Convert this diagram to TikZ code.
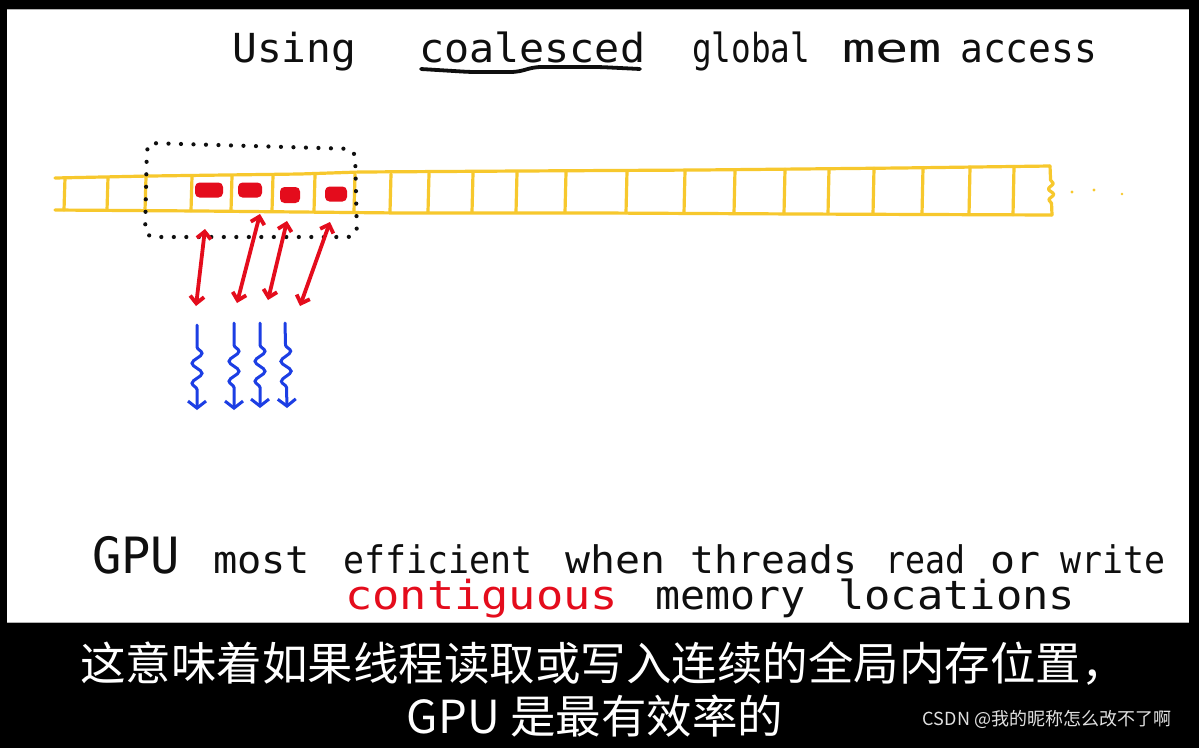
\documentclass[tikz,border=0pt]{standalone}
\usepackage{fontspec}
\setmainfont{Liberation Sans}
\newfontfamily\hand{DejaVu Sans Mono}
\newfontfamily\cjk{Noto Sans CJK SC}
\usetikzlibrary{arrows.meta,decorations.pathmorphing,calc}
\definecolor{memyellow}{RGB}{247,200,45}
\definecolor{penred}{RGB}{228,12,28}
\definecolor{penblue}{RGB}{28,62,228}
\definecolor{ink}{RGB}{15,15,15}
\newcommand{\fitw}[2]{\resizebox{#1pt}{\height}{#2}}
\tikzset{
  mem/.style={memyellow, line width=3.2pt, line cap=round, line join=round},
  dotbox/.style={ink, line width=4.2pt, line cap=round, dash pattern=on 0pt off 12.5pt, rounded corners=9pt},
  blob/.style={fill=penred, draw=none, rounded corners=4.5pt, inner sep=0pt},
  redarrow/.style={penred, line width=3.8pt, line cap=round,
    {Straight Barb[length=7pt,width=14pt]}-{Straight Barb[length=7pt,width=14pt]}},
  wavy/.style={penblue, line width=3pt, line cap=round,
    -{Straight Barb[length=7pt,width=18pt]},
    decorate, decoration={snake, amplitude=5pt, segment length=20pt, pre length=22pt, post length=18pt}},
  ttl/.style={anchor=base west, inner sep=0pt, text=ink, font=\hand\fontsize{40}{48}\selectfont},
  lineone/.style={anchor=base west, inner sep=0pt, text=ink, font=\hand\fontsize{38}{46}\selectfont},
  linetwo/.style={anchor=base west, inner sep=0pt, text=ink, font=\hand\fontsize{40}{48}\selectfont},
  sub/.style={inner sep=0pt, text=white, font=\cjk\fontsize{45.5}{52}\selectfont},
}
\begin{document}
\begin{tikzpicture}[x=1pt,y=-1pt]
\useasboundingbox (0,0) rectangle (1199,748);
\fill[black] (0,0) rectangle (1199,748);
\fill[white] (7,9) rectangle (1189,623);
\draw[gray!60, line width=1.5pt] (7,9.5) -- (1189,9.5);
\draw[gray!60, line width=1.5pt] (7,622.5) -- (1189,622.5);

% title
\node[ttl] (w1) at (232,62) {\fitw{124}{Using}};
\node[ttl] (w2) at (419,62) {\fitw{226}{coalesced}};
\node[ttl] (w3) at (692,62) {\fitw{118}{global}};
\node[ttl] (w4) at (842,62) {\fitw{100}{mem}};
\node[ttl] (w5) at (960,62) {\fitw{137}{access}};
\draw[ink, line width=3.8pt, line cap=round, rounded corners=6pt]
  (421,69) -- (470,72) -- (517,72) -- (535,67) -- (600,67) -- (640,69);

% memory strip
\draw[mem] (55,178) -- (150,176) -- (300,174) -- (360,172) -- (520,171) -- (700,170) -- (900,168) -- (1050,166);
\draw[mem] (55,210) -- (200,211) -- (400,213) -- (600,213) -- (800,214) -- (1052,215);
\foreach \x in {65,108,146,192,232,273,315,355,391,429,473,517,566,627,685,735,785,829,874,923,970,1014}
  \draw[mem] (\x,{178-(\x-55)*0.012}) -- (\x-1,{210+(\x-55)*0.005});
\draw[mem, decorate, decoration={snake, amplitude=2.5pt, segment length=11pt, pre length=14pt, post length=8pt}] (1050,166) -- (1052,215);
\fill[memyellow] (1072,192) circle (1.7pt) (1094,190) circle (1.7pt) (1122,194) circle (1.4pt);

% data elements
\node[blob, minimum width=28pt, minimum height=15pt] (m1) at (209,190) {};
\node[blob, minimum width=24pt, minimum height=15pt] (m2) at (250,190) {};
\node[blob, minimum width=20pt, minimum height=16pt] (m3) at (290,195) {};
\node[blob, minimum width=22pt, minimum height=15pt] (m4) at (336,194) {};

% dotted group box
\draw[dotbox] (147,143) -- (355,149) -- (357,237) -- (145,237) -- cycle;

% red arrows between memory and threads
\coordinate (r1t) at (205,229); \coordinate (r1b) at (196,306);
\coordinate (r2t) at (260,214); \coordinate (r2b) at (237,303);
\coordinate (r3t) at (287,221); \coordinate (r3b) at (268,300);
\coordinate (r4t) at (330,222); \coordinate (r4b) at (300,306);
\draw[redarrow] (r1b) -- (r1t);
\draw[redarrow] (r2b) -- (r2t);
\draw[redarrow] (r3b) -- (r3t);
\draw[redarrow] (r4b) -- (r4t);

% threads
\coordinate (b1t) at (197,325); \coordinate (b1b) at (197,410);
\coordinate (b2t) at (234,323); \coordinate (b2b) at (234,410);
\coordinate (b3t) at (260,323); \coordinate (b3b) at (260,408);
\coordinate (b4t) at (285,323); \coordinate (b4b) at (287,408);
\draw[wavy] (b1t) -- (b1b);
\draw[wavy] (b2t) -- (b2b);
\draw[wavy] (b3t) -- (b3b);
\draw[wavy] (b4t) -- (b4b);

% bottom statement
\node[lineone, font=\hand\fontsize{50}{58}\selectfont] (t1) at (92,573) {\fitw{88}{GPU}};
\node[lineone] (t2) at (213,573) {\fitw{97}{most}};
\node[lineone] (t3) at (343,573) {\fitw{189}{efficient}};
\node[lineone] (t4) at (565,573) {\fitw{100}{when}};
\node[lineone] (t5) at (690,573) {\fitw{167}{threads}};
\node[lineone] (t6) at (885,573) {\fitw{80}{read}};
\node[lineone] (t7) at (990,573) {\fitw{50}{or}};
\node[lineone] (t8) at (1060,573) {\fitw{105}{write}};
\node[linetwo, text=penred] (u1) at (345,609) {\fitw{273}{contiguous}};
\node[linetwo] (u2) at (655,609) {\fitw{150}{memory}};
\node[linetwo] (u3) at (838,609) {\fitw{237}{locations}};

% subtitles
\node[sub, anchor=west] (s1) at (80,664) {这意味着如果线程读取或写入连续的全局内存位置，};
\node[sub] (s2) at (595,716) {GPU 是最有效率的};
\node[inner sep=0pt, text=white!88!black, font=\cjk\fontsize{18}{22}\selectfont] (wm) at (1047,719) {CSDN @我的昵称怎么改不了啊};
\end{tikzpicture}
\end{document}
